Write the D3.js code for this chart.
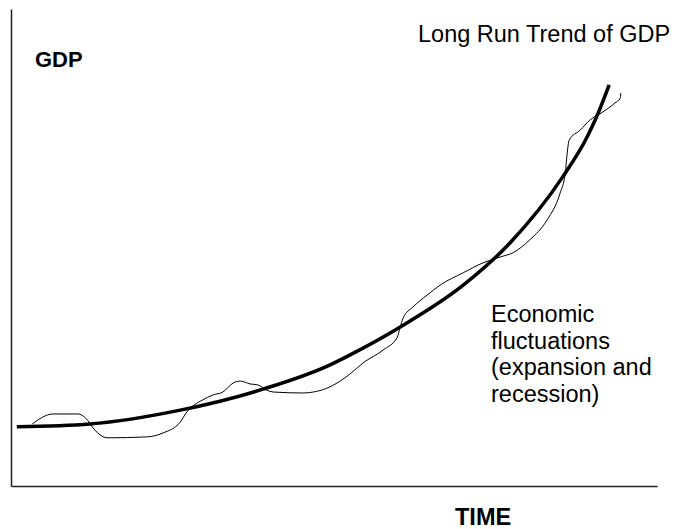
<!DOCTYPE html>
<html>
<head>
<meta charset="utf-8">
<script src="https://cdn.jsdelivr.net/npm/d3@7"></script>
<style>
  body { margin: 0; background: white; }
  text { font-family: "Liberation Sans", Arial, sans-serif; fill: black; }
</style>
</head>
<body>
<div id="container"></div>
<script>
// time and gdp in arbitrary units (0-100 on each axis)
const trend_time = [0.9, 12.2, 26.2, 39.0, 49.4, 52.5, 60.2, 70.0, 77.2, 85.4, 89.2, 90.9, 92.6]
const trend_gdp  = [12.4, 13.0, 15.9, 20.3, 25.4, 27.5, 33.3, 42.1, 50.9, 64.8, 73.2, 78.2, 84.1]

const cycle_time = [3.3, 6.5, 10.4, 11.5, 13.0, 13.8, 15.0, 21.1, 23.5, 26.2, 27.2, 29.6, 31.3, 32.8,
    34.4, 35.5, 37.0, 38.2, 39.6, 40.6, 45.2, 46.8, 48.9, 52.5, 54.5, 57.6, 59.8, 60.2, 60.7,
    62.2, 64.4, 66.4, 70.0, 73.1, 75.7, 77.7, 80.3, 83.0, 85.0, 85.8, 86.1, 86.4, 88.1, 89.6,
    91.6, 93.5, 94.3, 94.4]
const cycle_gdp = [13.0, 15.1, 15.1, 14.3, 11.7, 10.7, 10.1, 10.3, 11.1, 13.4, 15.5, 18.0, 19.1, 19.7,
    21.6, 22.0, 21.4, 21.2, 20.1, 19.7, 19.5, 19.7, 20.5, 23.5, 25.8, 28.5, 31.2, 33.1, 35.2,
    37.5, 40.0, 42.1, 44.7, 46.8, 48.0, 48.9, 51.6, 55.8, 61.4, 65.6, 69.8, 72.5, 74.6, 76.7,
    78.4, 80.3, 81.3, 82.4]

const x_label = 'TIME'
const y_label = 'GDP'
const trend_label = 'Long Run Trend of GDP'
const cycle_label = ['Economic', 'fluctuations', '(expansion and', 'recession)']

var scene_width = 678
var scene_height = 529

var svg = d3.select('#container').append('svg')
    .attr('width', scene_width)
    .attr('height', scene_height)

var x = d3.scaleLinear().domain([0, 100]).range([11, 657])
var y = d3.scaleLinear().domain([0, 100]).range([486, 9])

// bare axes, no ticks
svg.append('g')
    .attr('transform', 'translate(0,' + y(0) + ')')
    .call(d3.axisBottom(x).tickValues([]).tickSizeOuter(0))
    .select('.domain').attr('stroke', '#222').attr('stroke-width', 1.5)

svg.append('g')
    .attr('transform', 'translate(' + x(0) + ',0)')
    .call(d3.axisLeft(y).tickValues([]).tickSizeOuter(0))
    .select('.domain').attr('stroke', '#222').attr('stroke-width', 1.5)

var line = d3.line()
    .x(d => x(d[0]))
    .y(d => y(d[1]))
    .curve(d3.curveMonotoneX)

var trend = d3.zip(trend_time, trend_gdp)
var cycle = d3.zip(cycle_time, cycle_gdp)

svg.append('path')
    .attr('d', line(cycle))
    .attr('fill', 'none')
    .attr('stroke', 'black')
    .attr('stroke-width', 1)

svg.append('path')
    .attr('d', line(trend))
    .attr('fill', 'none')
    .attr('stroke', 'black')
    .attr('stroke-width', 3.5)

svg.append('text')
    .attr('x', 35).attr('y', 67)
    .style('font-size', '22px').style('font-weight', 'bold')
    .text(y_label)

svg.append('text')
    .attr('x', 455).attr('y', 525)
    .style('font-size', '23.5px').style('font-weight', 'bold')
    .text(x_label)

svg.append('text')
    .attr('x', 418).attr('y', 42)
    .style('font-size', '23.5px')
    .text(trend_label)

svg.append('text')
    .attr('x', 491).attr('y', 322)
    .style('font-size', '23.5px')
    .selectAll('tspan')
    .data(cycle_label)
    .join('tspan')
    .attr('x', 491)
    .attr('dy', (d, i) => i == 0 ? 0 : 26.7)
    .text(d => d)
</script>
</body>
</html>
